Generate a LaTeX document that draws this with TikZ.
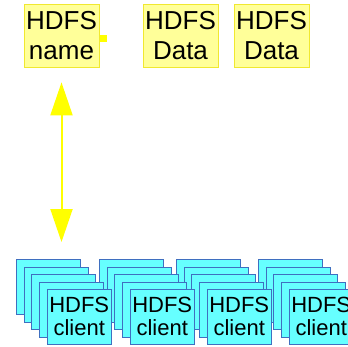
\documentclass[tikz,border=0pt]{standalone}
\usepackage{fontspec}
\setmainfont{Liberation Sans}
\usetikzlibrary{arrows.meta}

\definecolor{srvfill}{HTML}{FFFF99}
\definecolor{srvline}{HTML}{F0E830}
\definecolor{cltfill}{HTML}{66FFFF}
\definecolor{cltline}{HTML}{3F6FC0}
\definecolor{linkcol}{HTML}{FFFF00}

\begin{document}
\begin{tikzpicture}[
        x=1pt, y=-1pt,
        server/.style={draw=srvline,fill=srvfill,line width=0.8pt,inner sep=0pt,
            minimum width=75pt,minimum height=63pt,align=center,
            font=\fontsize{26}{30}\selectfont},
        client/.style={draw=cltline,fill=cltfill,line width=0.8pt,inner sep=0pt,
            minimum width=64pt,minimum height=55pt,anchor=north west,align=center,
            font=\fontsize{22}{23}\selectfont},
        link/.style={{Triangle[length=33pt,width=22pt]}-{Triangle[length=33pt,width=22pt]},
            draw=linkcol,fill=linkcol,line width=2pt}
    ]
        \useasboundingbox (0,0) rectangle (348,346);

        % name node and data nodes
        \node[server] (name) at (61.5,35.5) {HDFS\\name};
        \node[fill=linkcol,inner sep=0pt,minimum size=7pt] (tab) at (103.5,38.5) {};
        \node[server] (data1) at (180.5,35.5) {HDFS\\Data};
        \node[server] (data2) at (271.5,35.5) {HDFS\\Data};

        % stacks of clients, right one first so the left ones lie on top
        \foreach \g/\gx in {4/258,3/176,2/99,1/16}{
            \foreach \k in {0,...,3}
                \node[client] (c\g\k) at (\gx+7.7*\k,259+7.5*\k) {};
            \node[client] (c\g4) at (\gx+30.8,289) {HDFS\\client};
        }

        \draw[link,shorten <=15pt,shorten >=17pt] (name.south) -- (name.south |- c10.north);
    \end{tikzpicture}
\end{document}
